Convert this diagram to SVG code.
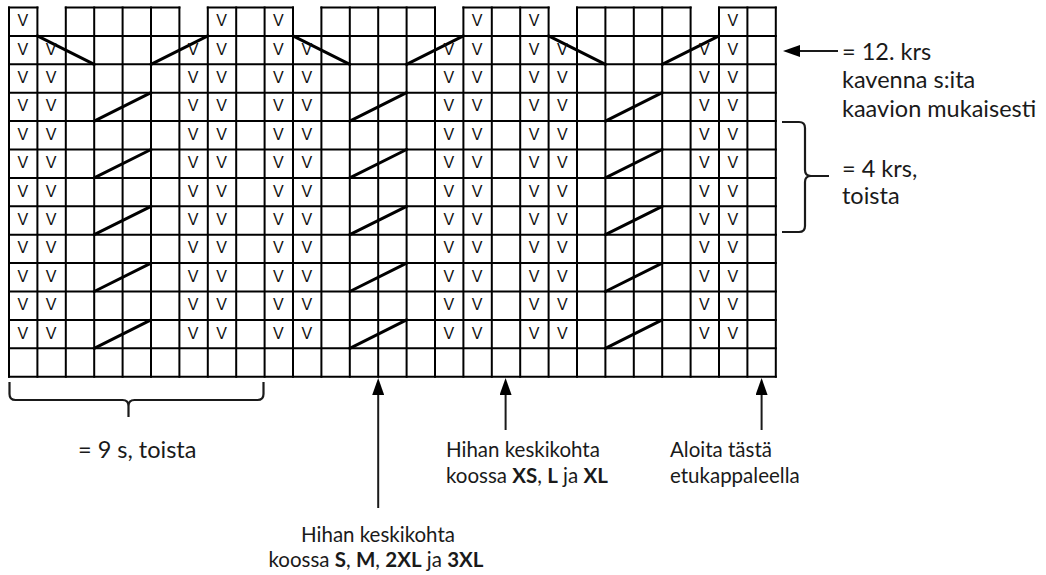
<svg xmlns="http://www.w3.org/2000/svg" width="1046" height="575" viewBox="0 0 1046 575">
<style>
.grid{fill:none;stroke:#000;stroke-width:2;stroke-linecap:square}
.diag{fill:none;stroke:#000;stroke-width:3;stroke-linecap:round}
.v{font-family:"Liberation Sans",Arial,sans-serif;font-size:16px;fill:#111;text-anchor:middle}
.lbl{font-family:Lato,"Open Sans",sans-serif;font-size:20.5px;fill:#1a1a1a}
.big{font-size:23.5px}
.b{font-weight:700}
.conn{fill:none;stroke:#1a1a1a;stroke-width:2}
.brace{fill:none;stroke:#1a1a1a;stroke-width:2.2;stroke-linecap:butt}
</style>
<defs>
<marker id="ah" viewBox="0 0 17 12" refX="0" refY="6" markerWidth="17" markerHeight="12" markerUnits="userSpaceOnUse" orient="auto">
<path d="M0,0 L17,6 L0,12 Z" fill="#000"/>
</marker>
</defs>
<rect width="1046" height="575" fill="#fff"/>
<g id="chart-grid">
<path class="grid" d="M9,7.5V376.7M37.4,7.5V376.7M65.8,7.5V376.7M94.2,7.5V376.7M122.6,7.5V376.7M151,7.5V376.7M179.4,7.5V376.7M207.8,7.5V376.7M236.2,7.5V376.7M264.6,7.5V376.7M293,7.5V376.7M321.4,7.5V376.7M349.8,7.5V376.7M378.2,7.5V376.7M406.6,7.5V376.7M435,7.5V376.7M463.4,7.5V376.7M491.8,7.5V376.7M520.2,7.5V376.7M548.6,7.5V376.7M577,7.5V376.7M605.4,7.5V376.7M633.8,7.5V376.7M662.2,7.5V376.7M690.6,7.5V376.7M719,7.5V376.7M747.4,7.5V376.7M775.8,7.5V376.7"/>
<path class="grid" d="M9,35.9H775.8M9,64.3H775.8M9,92.7H775.8M9,121.1H775.8M9,149.5H775.8M9,177.9H775.8M9,206.3H775.8M9,234.7H775.8M9,263.1H775.8M9,291.5H775.8M9,319.9H775.8M9,348.3H775.8M9,376.7H775.8"/>
<path class="grid" d="M9,7.5H37.4M65.8,7.5H179.4M207.8,7.5H293M321.4,7.5H435M463.4,7.5H548.6M577,7.5H690.6M719,7.5H775.8"/>
</g>
<g id="decreases">
<path class="diag" d="M37.4,35.9L94.2,64.3M151,64.3L207.8,35.9M293,35.9L349.8,64.3M406.6,64.3L463.4,35.9M548.6,35.9L605.4,64.3M662.2,64.3L719,35.9"/>
<path class="diag" d="M94.2,121.1L151,92.7M349.8,121.1L406.6,92.7M605.4,121.1L662.2,92.7M94.2,177.9L151,149.5M349.8,177.9L406.6,149.5M605.4,177.9L662.2,149.5M94.2,234.7L151,206.3M349.8,234.7L406.6,206.3M605.4,234.7L662.2,206.3M94.2,291.5L151,263.1M349.8,291.5L406.6,263.1M605.4,291.5L662.2,263.1M94.2,348.3L151,319.9M349.8,348.3L406.6,319.9M605.4,348.3L662.2,319.9"/>
</g>
<g id="stitches" transform="translate(-0.4,0.8)">
<text class="v" x="23.2" y="25.5">V</text><text class="v" x="222" y="25.5">V</text><text class="v" x="278.8" y="25.5">V</text><text class="v" x="477.6" y="25.5">V</text><text class="v" x="534.4" y="25.5">V</text><text class="v" x="733.2" y="25.5">V</text>
<g id="r1"><text class="v" x="23.2" y="53.9">V</text><text class="v" x="51.6" y="53.9">V</text><text class="v" x="193.6" y="53.9">V</text><text class="v" x="222" y="53.9">V</text><text class="v" x="278.8" y="53.9">V</text><text class="v" x="307.2" y="53.9">V</text><text class="v" x="449.2" y="53.9">V</text><text class="v" x="477.6" y="53.9">V</text><text class="v" x="534.4" y="53.9">V</text><text class="v" x="562.8" y="53.9">V</text><text class="v" x="704.8" y="53.9">V</text><text class="v" x="733.2" y="53.9">V</text></g>
<g id="r2"><text class="v" x="23.2" y="82.3">V</text><text class="v" x="51.6" y="82.3">V</text><text class="v" x="193.6" y="82.3">V</text><text class="v" x="222" y="82.3">V</text><text class="v" x="278.8" y="82.3">V</text><text class="v" x="307.2" y="82.3">V</text><text class="v" x="449.2" y="82.3">V</text><text class="v" x="477.6" y="82.3">V</text><text class="v" x="534.4" y="82.3">V</text><text class="v" x="562.8" y="82.3">V</text><text class="v" x="704.8" y="82.3">V</text><text class="v" x="733.2" y="82.3">V</text></g>
<g id="r3"><text class="v" x="23.2" y="110.7">V</text><text class="v" x="51.6" y="110.7">V</text><text class="v" x="193.6" y="110.7">V</text><text class="v" x="222" y="110.7">V</text><text class="v" x="278.8" y="110.7">V</text><text class="v" x="307.2" y="110.7">V</text><text class="v" x="449.2" y="110.7">V</text><text class="v" x="477.6" y="110.7">V</text><text class="v" x="534.4" y="110.7">V</text><text class="v" x="562.8" y="110.7">V</text><text class="v" x="704.8" y="110.7">V</text><text class="v" x="733.2" y="110.7">V</text></g>
<g id="r4"><text class="v" x="23.2" y="139.1">V</text><text class="v" x="51.6" y="139.1">V</text><text class="v" x="193.6" y="139.1">V</text><text class="v" x="222" y="139.1">V</text><text class="v" x="278.8" y="139.1">V</text><text class="v" x="307.2" y="139.1">V</text><text class="v" x="449.2" y="139.1">V</text><text class="v" x="477.6" y="139.1">V</text><text class="v" x="534.4" y="139.1">V</text><text class="v" x="562.8" y="139.1">V</text><text class="v" x="704.8" y="139.1">V</text><text class="v" x="733.2" y="139.1">V</text></g>
<g id="r5"><text class="v" x="23.2" y="167.5">V</text><text class="v" x="51.6" y="167.5">V</text><text class="v" x="193.6" y="167.5">V</text><text class="v" x="222" y="167.5">V</text><text class="v" x="278.8" y="167.5">V</text><text class="v" x="307.2" y="167.5">V</text><text class="v" x="449.2" y="167.5">V</text><text class="v" x="477.6" y="167.5">V</text><text class="v" x="534.4" y="167.5">V</text><text class="v" x="562.8" y="167.5">V</text><text class="v" x="704.8" y="167.5">V</text><text class="v" x="733.2" y="167.5">V</text></g>
<g id="r6"><text class="v" x="23.2" y="195.9">V</text><text class="v" x="51.6" y="195.9">V</text><text class="v" x="193.6" y="195.9">V</text><text class="v" x="222" y="195.9">V</text><text class="v" x="278.8" y="195.9">V</text><text class="v" x="307.2" y="195.9">V</text><text class="v" x="449.2" y="195.9">V</text><text class="v" x="477.6" y="195.9">V</text><text class="v" x="534.4" y="195.9">V</text><text class="v" x="562.8" y="195.9">V</text><text class="v" x="704.8" y="195.9">V</text><text class="v" x="733.2" y="195.9">V</text></g>
<g id="r7"><text class="v" x="23.2" y="224.3">V</text><text class="v" x="51.6" y="224.3">V</text><text class="v" x="193.6" y="224.3">V</text><text class="v" x="222" y="224.3">V</text><text class="v" x="278.8" y="224.3">V</text><text class="v" x="307.2" y="224.3">V</text><text class="v" x="449.2" y="224.3">V</text><text class="v" x="477.6" y="224.3">V</text><text class="v" x="534.4" y="224.3">V</text><text class="v" x="562.8" y="224.3">V</text><text class="v" x="704.8" y="224.3">V</text><text class="v" x="733.2" y="224.3">V</text></g>
<g id="r8"><text class="v" x="23.2" y="252.7">V</text><text class="v" x="51.6" y="252.7">V</text><text class="v" x="193.6" y="252.7">V</text><text class="v" x="222" y="252.7">V</text><text class="v" x="278.8" y="252.7">V</text><text class="v" x="307.2" y="252.7">V</text><text class="v" x="449.2" y="252.7">V</text><text class="v" x="477.6" y="252.7">V</text><text class="v" x="534.4" y="252.7">V</text><text class="v" x="562.8" y="252.7">V</text><text class="v" x="704.8" y="252.7">V</text><text class="v" x="733.2" y="252.7">V</text></g>
<g id="r9"><text class="v" x="23.2" y="281.1">V</text><text class="v" x="51.6" y="281.1">V</text><text class="v" x="193.6" y="281.1">V</text><text class="v" x="222" y="281.1">V</text><text class="v" x="278.8" y="281.1">V</text><text class="v" x="307.2" y="281.1">V</text><text class="v" x="449.2" y="281.1">V</text><text class="v" x="477.6" y="281.1">V</text><text class="v" x="534.4" y="281.1">V</text><text class="v" x="562.8" y="281.1">V</text><text class="v" x="704.8" y="281.1">V</text><text class="v" x="733.2" y="281.1">V</text></g>
<g id="r10"><text class="v" x="23.2" y="309.5">V</text><text class="v" x="51.6" y="309.5">V</text><text class="v" x="193.6" y="309.5">V</text><text class="v" x="222" y="309.5">V</text><text class="v" x="278.8" y="309.5">V</text><text class="v" x="307.2" y="309.5">V</text><text class="v" x="449.2" y="309.5">V</text><text class="v" x="477.6" y="309.5">V</text><text class="v" x="534.4" y="309.5">V</text><text class="v" x="562.8" y="309.5">V</text><text class="v" x="704.8" y="309.5">V</text><text class="v" x="733.2" y="309.5">V</text></g>
<g id="r11"><text class="v" x="23.2" y="337.9">V</text><text class="v" x="51.6" y="337.9">V</text><text class="v" x="193.6" y="337.9">V</text><text class="v" x="222" y="337.9">V</text><text class="v" x="278.8" y="337.9">V</text><text class="v" x="307.2" y="337.9">V</text><text class="v" x="449.2" y="337.9">V</text><text class="v" x="477.6" y="337.9">V</text><text class="v" x="534.4" y="337.9">V</text><text class="v" x="562.8" y="337.9">V</text><text class="v" x="704.8" y="337.9">V</text><text class="v" x="733.2" y="337.9">V</text></g>
</g>
<g id="connectors">
<path class="conn" d="M838,51H800" marker-end="url(#ah)"/>
<path class="conn" d="M378.2,508V395" marker-end="url(#ah)"/>
<path class="conn" d="M505.6,430V395" marker-end="url(#ah)"/>
<path class="conn" d="M761.6,430V395" marker-end="url(#ah)"/>
<path class="brace" d="M782,122H799Q805,122 805,128V170Q805,176 811,176H829M811,176Q805,176 805,182V226Q805,232 799,232H782"/>
<path class="brace" d="M9.5,382V394Q9.5,400 15.5,400H122.5Q128.5,400 128.5,406V417M128.5,406Q128.5,400 134.5,400H257.5Q263.5,400 263.5,394V382"/>
</g>
<g id="label-row12">
<text class="lbl big" x="842" y="60">= 12. krs</text>
<text class="lbl big" x="842" y="88.3">kavenna s:ita</text>
<text class="lbl big" x="842" y="116.7">kaavion mukaisesti</text>
</g>
<g id="label-4rows">
<text class="lbl big" x="842" y="177">= 4 krs,</text>
<text class="lbl big" x="842" y="204">toista</text>
</g>
<g id="label-9sts">
<text class="lbl big" x="78" y="458">= 9 s, toista</text>
</g>
<g id="label-centre-small">
<text class="lbl" x="446" y="456.7">Hihan keskikohta</text>
<text class="lbl" x="446" y="483.3">koossa <tspan class="b">XS</tspan>, <tspan class="b">L</tspan> ja <tspan class="b">XL</tspan></text>
</g>
<g id="label-start">
<text class="lbl" x="670" y="456.7">Aloita tästä</text>
<text class="lbl" x="670" y="483.3">etukappaleella</text>
</g>
<g id="label-centre-large">
<text class="lbl" x="378" y="541.7" text-anchor="middle">Hihan keskikohta</text>
<text class="lbl" x="376" y="566.7" text-anchor="middle">koossa <tspan class="b">S</tspan>, <tspan class="b">M</tspan>, <tspan class="b">2XL</tspan> ja <tspan class="b">3XL</tspan></text>
</g>
</svg>
